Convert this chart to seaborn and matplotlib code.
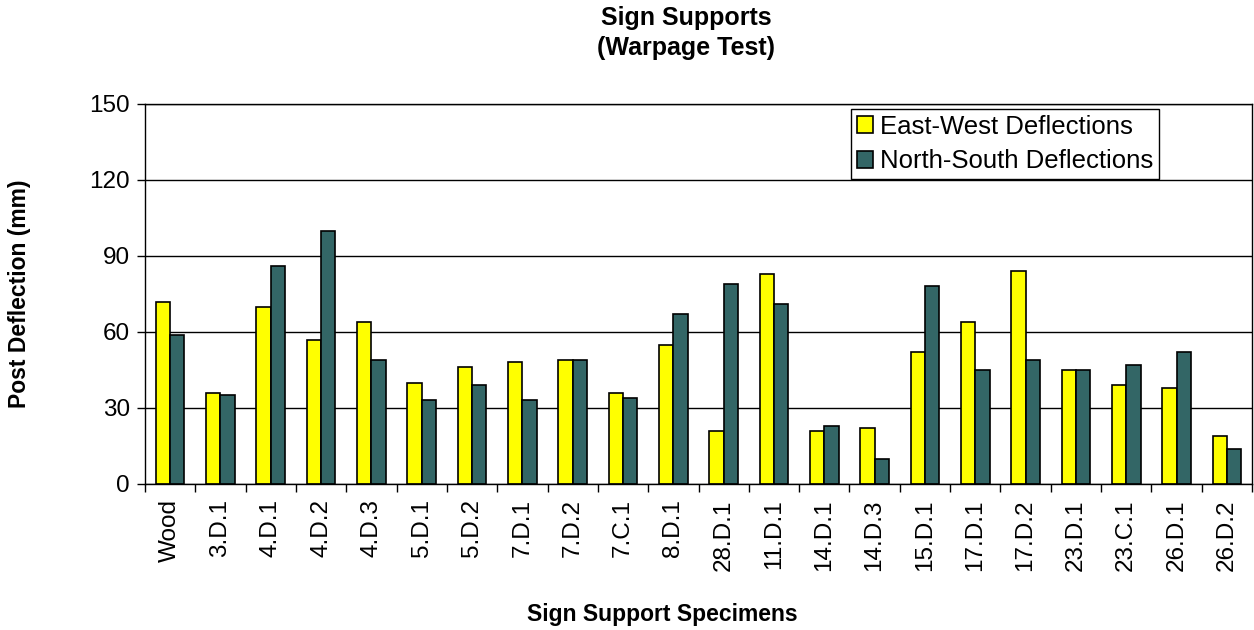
import matplotlib
matplotlib.use("Agg")
import matplotlib.pyplot as plt
import seaborn as sns
import pandas as pd
from matplotlib.patches import Patch

specimens = ["Wood", "3.D.1", "4.D.1", "4.D.2", "4.D.3", "5.D.1", "5.D.2", "7.D.1",
             "7.D.2", "7.C.1", "8.D.1", "28.D.1", "11.D.1", "14.D.1", "14.D.3",
             "15.D.1", "17.D.1", "17.D.2", "23.D.1", "23.C.1", "26.D.1", "26.D.2"]
east_west = [72, 36, 70, 57, 64, 40, 46, 48, 49, 36, 55, 21, 83, 21, 22, 52, 64, 84, 45, 39, 38, 19]
north_south = [59, 35, 86, 100, 49, 33, 39, 33, 49, 34, 67, 79, 71, 23, 10, 78, 45, 49, 45, 47, 52, 14]
series_names = ["East-West Deflections", "North-South Deflections"]
series_colors = ["#FFFF00", "#336666"]

df = pd.DataFrame({
    "Specimen": specimens * 2,
    "Deflection": east_west + north_south,
    "Direction": [series_names[0]] * len(specimens) + [series_names[1]] * len(specimens),
})

sns.set_theme(style="white")
plt.rcParams["font.family"] = ["Liberation Sans", "DejaVu Sans"]
plt.rcParams["text.color"] = "black"
plt.rcParams["xtick.color"] = "black"
plt.rcParams["ytick.color"] = "black"
plt.rcParams["axes.labelcolor"] = "black"

fig = plt.figure(figsize=(12.54, 6.30), dpi=100)
ax = fig.add_axes([145 / 1254, 1 - 484 / 630, (1252 - 145) / 1254, 380 / 630])

sns.barplot(data=df, x="Specimen", y="Deflection", hue="Direction",
            palette=series_colors, width=0.57, gap=0, edgecolor="black",
            linewidth=1.2, saturation=1, errorbar=None, legend=False, ax=ax)

ax.set_ylim(0, 150)
ax.set_xlim(-0.5, len(specimens) - 0.5)
ax.set_yticks([0, 30, 60, 90, 120, 150])
ax.tick_params(axis="y", labelsize=17.5, length=6, width=1, direction="out",
               color="black", labelcolor="black", left=True, pad=5)
ax.set_xticks(range(len(specimens)))
ax.set_xticklabels(specimens, rotation=90, fontsize=17.5, color="black")
ax.tick_params(axis="x", length=0, pad=11)
# category boundary ticks
ax.set_xticks([i - 0.5 for i in range(len(specimens) + 1)], minor=True)
ax.tick_params(axis="x", which="minor", length=6, width=1, color="black", bottom=True)

ax.yaxis.grid(True, color="black", linewidth=1)
ax.set_axisbelow(True)
for s in ax.spines.values():
    s.set_color("black")
    s.set_linewidth(1)

ax.set_xlabel("")
ax.set_ylabel("")

fig.text(686 / 1254, 1 - 18 / 630, "Sign Supports", ha="center", va="center",
         fontsize=18, fontweight="bold", color="black")
fig.text(686 / 1254, 1 - 48 / 630, "(Warpage Test)", ha="center", va="center",
         fontsize=18, fontweight="bold", color="black")
fig.text(20 / 1254, 1 - 294 / 630, "Post Deflection (mm)", ha="center", va="center",
         rotation=90, fontsize=16.5, fontweight="bold", color="black")
fig.text(662 / 1254, 1 - 615 / 630, "Sign Support Specimens", ha="center", va="center",
         fontsize=16.5, fontweight="bold", color="black")

handles = [Patch(facecolor=c, edgecolor="black", linewidth=1.2) for c in series_colors]
leg = ax.legend(handles, series_names, loc="upper left",
                bbox_to_anchor=(851 / 1254, 1 - 109 / 630), bbox_transform=fig.transFigure,
                fontsize=18.5, frameon=True, fancybox=False, framealpha=1,
                handlelength=0.62, handleheight=0.62, handletextpad=0.3,
                borderpad=0.22, labelspacing=0.42, borderaxespad=0)
leg.get_frame().set_edgecolor("black")
leg.get_frame().set_linewidth(1)
for t in leg.get_texts():
    t.set_color("black")

fig.savefig("out.png", dpi=100)
